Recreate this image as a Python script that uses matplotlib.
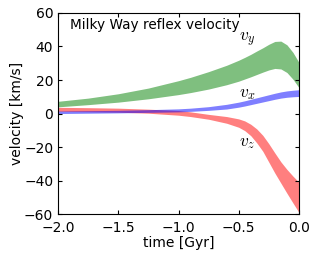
import matplotlib
matplotlib.use("Agg")
import matplotlib.pyplot as plt

# time in Gyr
t = [-2.0, -1.75, -1.5, -1.25, -1.0, -0.9, -0.75, -0.6, -0.5, -0.45,
     -0.4, -0.35, -0.3, -0.25, -0.2, -0.15, -0.1, -0.05, 0.0]

# vy band (green)
vy_lo = [4.0, 5.3, 6.8, 8.8, 11.3, 12.5, 14.6, 17.2, 19.3, 20.6,
         21.9, 23.3, 24.7, 26.0, 26.9, 26.6, 24.5, 20.5, 15.5]
vy_hi = [7.3, 9.2, 11.8, 15.2, 19.6, 21.6, 25.0, 28.8, 31.8, 33.5,
         35.3, 37.3, 39.2, 41.3, 43.0, 43.2, 41.0, 36.5, 30.5]

# vx band (blue)
vx_lo = [0.0, 0.2, 0.4, 0.7, 1.0, 1.3, 1.9, 2.7, 3.8, 4.5,
         5.3, 6.1, 6.9, 7.7, 8.5, 9.2, 9.7, 10.0, 10.2]
vx_hi = [1.5, 1.7, 1.9, 2.3, 2.8, 3.2, 4.1, 5.5, 6.8, 7.6,
         8.5, 9.4, 10.3, 11.2, 12.1, 12.9, 13.5, 13.9, 14.2]

# vz band (red)
vz_lo = [1.3, 1.1, 0.8, 0.2, -1.0, -1.8, -3.4, -5.8, -8.2, -10.2,
         -13.2, -17.5, -22.5, -29.0, -35.5, -41.5, -47.5, -53.3, -59.0]
vz_hi = [3.7, 3.5, 3.2, 2.6, 1.8, 1.0, -0.5, -1.8, -3.2, -4.4,
         -6.4, -9.2, -13.0, -18.0, -23.5, -28.8, -33.3, -37.3, -41.0]

plt.rcParams['mathtext.fontset'] = 'cm'

fig = plt.figure(figsize=(3.14, 2.54), dpi=100)
ax = fig.add_axes([0.185, 0.157, 0.767, 0.792])

ax.fill_between(t, vy_lo, vy_hi, color='g', alpha=0.5, lw=0)
ax.fill_between(t, vz_lo, vz_hi, color='r', alpha=0.5, lw=0)
ax.fill_between(t, vx_lo, vx_hi, color='b', alpha=0.5, lw=0)

ax.text(-0.43, 44, r'$v_y$', fontsize=12.5, ha='center', va='center')
ax.text(-0.43, 12, r'$v_x$', fontsize=12.5, ha='center', va='center')
ax.text(-0.43, -17, r'$v_z$', fontsize=12.5, ha='center', va='center')
ax.text(0.05, 0.94, 'Milky Way reflex velocity', transform=ax.transAxes,
        fontsize=9.8, ha='left', va='center')

ax.set_xlim(-2, 0)
ax.set_ylim(-60, 60)
ax.set_xticks([-2.0, -1.5, -1.0, -0.5, 0.0])
ax.set_yticks([-60, -40, -20, 0, 20, 40, 60])
ax.tick_params(direction='in', top=True, right=True, length=3, labelsize=10)
ax.tick_params(axis='x', pad=5)
ax.set_xlabel('time [Gyr]', fontsize=10, labelpad=1)
ax.set_ylabel('velocity [km/s]', fontsize=10, labelpad=0)

fig.savefig('out.png', dpi=100)
